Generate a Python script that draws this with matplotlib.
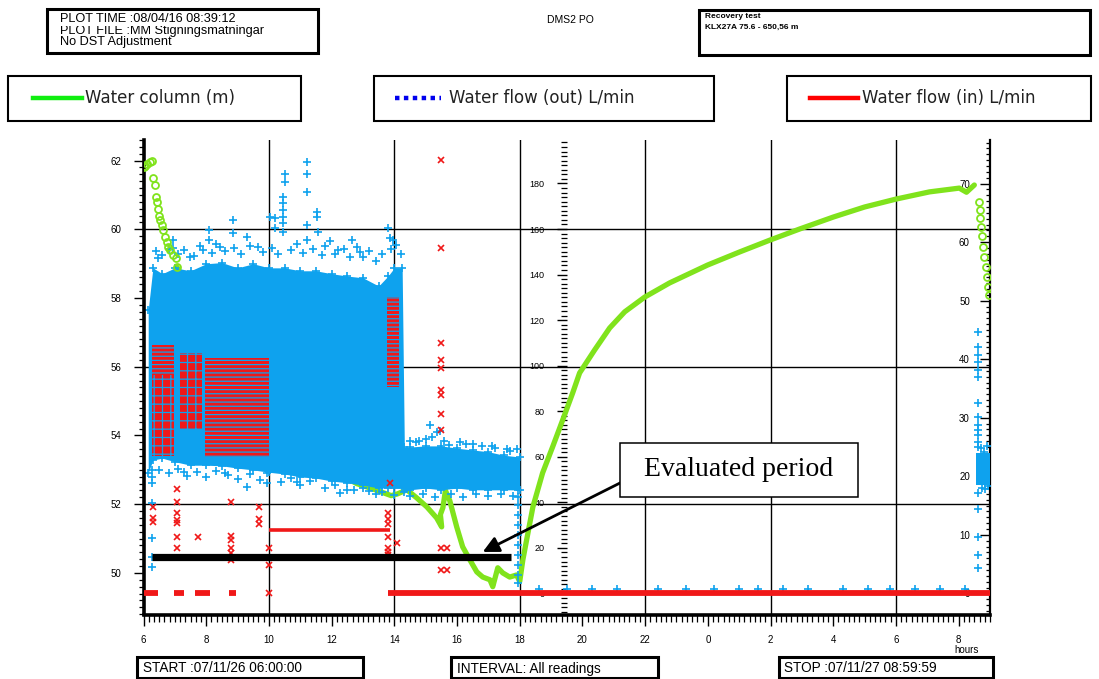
import matplotlib
matplotlib.use("Agg")
import matplotlib.pyplot as plt
from matplotlib.patches import Rectangle
from matplotlib.lines import Line2D
from matplotlib.ticker import FixedLocator, MultipleLocator, FixedFormatter

plt.rcParams['font.family'] = ['Liberation Sans', 'DejaVu Sans']
plt.rcParams['hatch.linewidth'] = 0.9

# ---------------- data ----------------
# time axis in hours from 06:00 on day 1 (33 = 09:00 on day 2)
x_ticks = [6, 8, 10, 12, 14, 16, 18, 20, 22, 24, 26, 28, 30, 32]
x_tick_labels = ['6', '8', '10', '12', '14', '16', '18', '20', '22', '0', '2', '4', '6', '8']
left_ticks = [50, 52, 54, 56, 58, 60, 62]
mid_ticks = [0, 20, 40, 60, 80, 100, 120, 140, 160, 180]
right_ticks = [0, 10, 20, 30, 40, 50, 60, 70]

# water column (m) - dense trace
wc_t = [7.07, 7.6, 8.5, 9.5, 10.5, 11.5, 12.3, 12.8, 13.3, 13.9, 14.1, 14.40, 14.72,
        15.04, 15.35, 15.51, 15.47, 15.55, 15.63, 15.77, 15.99, 16.18, 16.41, 16.63,
        16.82, 17.05, 17.14, 17.30, 17.46, 17.68, 17.90, 18.00, 18.10, 18.22, 18.42,
        18.73, 19.05, 19.37, 19.69, 19.91, 20.39, 20.87, 21.35, 21.99, 22.78, 23.99,
        25.01, 25.99, 26.93, 28.01, 29.0, 30.0, 31.07, 32.02, 32.25, 32.5]
wc_m = [58.90, 58.0, 56.8, 56.4, 55.0, 53.6, 52.85, 52.6, 52.45, 52.25, 52.3, 52.42, 52.18,
        51.92, 51.60, 51.34, 51.7, 51.9, 52.4, 52.1, 51.34, 50.76, 50.38, 50.03,
        49.88, 49.80, 49.60, 50.15, 50.0, 49.88, 49.94, 49.75, 50.38, 50.96, 51.92,
        52.91, 53.67, 54.45, 55.24, 55.82, 56.49, 57.13, 57.60, 58.03, 58.44, 58.96,
        59.34, 59.69, 60.01, 60.36, 60.65, 60.88, 61.09, 61.2, 61.08, 61.29]
# water column (m) - sparse readings (open circles)
wc_pts_t = [6.00, 6.05, 6.12, 6.20, 6.28, 6.30, 6.37, 6.40, 6.43, 6.46, 6.49, 6.53, 6.59,
            6.62, 6.69, 6.75, 6.78, 6.85, 6.94, 7.03, 7.07,
            32.64, 32.67, 32.69, 32.72, 32.75, 32.77, 32.82, 32.88, 32.91, 32.95, 32.98]
wc_pts_m = [61.80, 61.85, 61.90, 61.95, 62.00, 61.50, 61.30, 60.95, 60.80, 60.60, 60.40,
            60.27, 60.13, 59.98, 59.78, 59.63, 59.50, 59.40, 59.25, 59.16, 58.90,
            60.80, 60.57, 60.33, 60.08, 59.80, 59.50, 59.20, 58.90, 58.60, 58.33, 58.10]

# water flow (out) L/min - envelope of the dense scatter
out_t = [6.15, 6.3, 6.6, 7.0, 7.5, 8.0, 8.5, 9.0, 9.5, 10.0, 10.5, 11.0, 11.5, 12.0, 12.5,
         13.0, 13.5, 13.8, 14.0, 14.25, 14.32, 14.5, 15.0, 15.5, 16.0, 16.5, 17.0, 17.5, 18.0]
out_hi = [48.4, 55.6, 54.6, 55.6, 55.1, 56.3, 56.5, 55.6, 56.3, 55.6, 55.6, 55.1, 55.1, 54.6,
          54.2, 53.9, 52.5, 54.2, 55.6, 55.6, 25.0, 25.0, 25.2, 25.2, 24.8, 24.5, 24.2, 23.6, 23.3]
out_lo = [20.6, 22.8, 23.1, 22.5, 21.9, 21.9, 21.8, 21.4, 21.1, 20.7, 20.4, 19.9, 19.7, 19.2,
          18.9, 18.5, 18.0, 18.0, 18.0, 18.0, 17.3, 17.7, 18.0, 17.7, 18.0, 17.7, 17.7, 17.7, 17.7]
out_end_t = [32.55, 33.0]
out_end_hi = [24.0, 24.0]
out_end_lo = [18.6, 18.6]
# water flow (out) L/min - readings along the edges of the dense scatter
edge_t = [6.4, 6.6, 6.8, 7.1, 7.3, 7.6, 7.8, 8.2, 8.3, 8.6, 8.9, 9.1, 9.4, 9.8, 10.1, 10.3,
          10.7, 10.9, 11.1, 11.4, 11.7, 11.8, 12.1, 12.4, 12.6, 12.8, 13.0, 13.2, 13.4, 13.6,
          13.9, 14.05, 14.2,
          6.5, 6.8, 7.1, 7.4, 7.7, 8.0, 8.3, 8.7, 9.0, 9.4, 9.7, 10.4, 10.7, 11.0, 11.3, 11.8,
          12.1, 12.7, 13.0, 13.4, 13.6, 14.0,
          14.5, 14.9, 15.3, 15.8, 16.2, 16.6, 17.0, 17.4, 17.8,
          14.5, 14.7, 15.0, 15.6, 16.3, 16.8, 17.2, 17.7, 17.9,
          32.7, 32.8, 32.9, 32.75, 32.85, 32.95]
edge_v = [58.5, 57.8, 58.9, 57.9, 58.6, 57.7, 59.3, 58.2, 59.6, 58.4, 59.0, 58.0, 59.4, 58.3,
          59.0, 58.0, 58.7, 59.6, 58.2, 58.9, 57.8, 59.3, 58.0, 58.8, 57.5, 59.1, 57.4, 58.5,
          56.8, 57.9, 58.8, 59.5, 58.0,
          21.0, 20.5, 21.2, 20.0, 20.8, 19.9, 20.9, 20.2, 19.6, 20.4, 19.3, 19.0, 19.8, 18.5,
          19.2, 18.0, 18.6, 17.6, 18.0, 16.9, 17.4, 16.8,
          16.6, 17.0, 16.4, 16.9, 16.5, 17.0, 16.6, 16.9, 16.7,
          26.0, 25.8, 26.3, 26.0, 25.6, 25.2, 24.8, 24.4, 24.6,
          24.8, 24.2, 25.2, 18.0, 17.8, 18.3]
# water flow (out) L/min - isolated readings
out_pts_t = [11.20, 11.20, 11.20, 10.51, 10.51, 10.44, 10.44, 10.44, 10.44, 10.44, 10.44,
             8.84, 8.84, 8.10, 8.10, 11.52, 11.52, 11.20, 11.20, 11.57, 13.80, 13.96, 10.03,
             9.29, 11.95, 12.64, 9.66, 8.44, 7.48, 6.47, 6.95, 6.95, 13.85, 12.2, 12.9, 7.9,
             10.2, 10.2,
             6.28, 6.28, 6.28, 6.28, 6.28, 6.28, 6.28,
             7.3, 8.6, 9.29, 9.94, 9.94, 12.27, 12.49, 10.9, 13.2,
             15.74, 16.09, 15.2, 15.35, 15.13, 15.45, 16.5, 17.1, 17.6, 14.8,
             17.95, 17.95, 17.95, 17.95, 17.95, 17.95, 17.95, 17.95, 17.95, 17.95, 17.95,
             32.63, 32.63, 32.63, 32.63, 32.63, 32.63, 32.63, 32.63, 32.63, 32.63, 32.63,
             32.63, 32.63, 32.63, 32.63, 32.63, 32.63, 32.63,
             18.6, 19.5, 20.3, 21.1, 22.4, 23.3, 24.2, 25.0, 25.6, 26.4, 27.2, 28.3, 29.1,
             29.8, 30.6, 31.4, 32.2]
out_pts_v = [73.7, 71.7, 68.6, 71.7, 70.3, 67.7, 66.6, 65.5, 64.3, 63.2, 61.8,
             63.8, 61.5, 62.1, 60.4, 65.2, 64.3, 62.9, 60.4, 61.8, 62.4, 60.4, 64.3,
             60.9, 60.1, 60.4, 59.2, 59.2, 57.5, 57.2, 60.4, 59.0, 60.7, 58.6, 58.3, 58.6,
             64.1, 62.4,
             21.1, 19.9, 18.9, 15.5, 9.5, 6.2, 4.5,
             20.7, 20.5, 18.2, 20.6, 18.9, 17.2, 17.7, 19.0, 17.5,
             25.4, 25.9, 26.7, 27.6, 28.8, 27.8, 25.6, 25.2, 24.6, 26.0,
             17.7, 16.5, 15.1, 13.4, 11.7, 10.0, 8.3, 6.6, 4.9, 3.2, 1.8,
             44.6, 42.1, 40.7, 39.5, 38.2, 37.0, 32.5, 30.1, 28.8, 27.9, 27.1,
             25.9, 25.0, 17.1, 14.4, 9.6, 6.5, 4.3,
             0.7, 0.7, 0.7, 0.7, 0.7, 0.7, 0.7, 0.7, 0.7, 0.7, 0.7, 0.7, 0.7,
             0.7, 0.7, 0.7, 0.7]

# water flow (in) L/min
in_zero_t0 = [6.0, 6.97, 7.64, 8.73, 13.79]
in_zero_t1 = [6.46, 7.29, 8.12, 8.95, 33.0]
in_step_t = [10.0, 13.86]
in_step_v = [10.84, 10.84]
in_pts_t = [6.31, 6.31, 6.31,
            7.07, 7.07, 7.07, 7.07, 7.07, 7.07, 7.07, 7.74,
            8.80, 8.80, 8.80, 8.80, 8.80, 8.80, 9.67, 9.67, 9.67,
            10.0, 10.0, 10.0,
            13.79, 13.79, 13.79, 13.79, 13.79, 13.79, 13.79, 14.1, 13.85,
            15.5, 15.5, 15.5, 15.5, 15.5, 15.5, 15.5, 15.5, 15.5, 15.5, 15.5,
            15.68, 15.68]
in_pts_v = [14.8, 12.9, 12.2,
            17.8, 15.6, 13.7, 12.5, 12.0, 9.6, 7.8, 9.6,
            15.6, 9.8, 9.1, 7.8, 6.9, 5.7, 14.8, 12.7, 11.9,
            7.8, 4.9, 0.1,
            13.7, 12.7, 11.9, 9.6, 7.8, 7.1, 6.6, 8.6, 18.9,
            74.0, 59.0, 42.8, 39.8, 38.5, 34.7, 33.9, 30.6, 27.9, 7.8, 4.0,
            7.8, 4.0]
# dense blocks of (in) readings
in_blk_t0 = [6.27, 7.95, 13.78]
in_blk_t1 = [6.98, 10.0, 14.15]
in_blk_top = [42.4, 40.2, 50.6]
in_blk_bot = [37.3, 23.3, 35.2]
# sparse blocks of (in) readings
in_spr_t0 = [6.27, 7.15]
in_spr_t1 = [6.98, 7.85]
in_spr_top = [37.3, 41.0]
in_spr_bot = [23.5, 28.0]

# evaluated period marker
eval_t = [6.27, 17.73]
eval_m = [50.47, 50.47]
arrow_from = (21.27, 52.65)
arrow_to = (16.82, 50.61)

GREEN = '#80E31C'
BLUE = '#0EA2EE'
RED = '#F01818'

# ---------------- figure ----------------
W, H = 1099, 679
fig = plt.figure(figsize=(W / 100, H / 100), dpi=100)


def fx(x):
    return x / W


def fy(y):
    return 1 - y / H


ax = fig.add_axes([fx(143.5), fy(614.5), fx(990) - fx(143.5), fy(140) - fy(614.5)])
axr = ax.twinx()
axm = ax.twinx()
ax.set_zorder(3)
ax.patch.set_visible(False)

ax.set_xlim(6, 33)
ax.set_ylim(48.79, 62.60)
axr.set_ylim(-3.59, 77.43)
axm.set_ylim(-9.22, 199.07)
tr_flow = axr.transData

# grid
for g in [10, 14, 18, 22, 26, 30]:
    ax.axvline(g, color='black', lw=1.0, zorder=0.5)
for g in [52, 56, 60]:
    ax.axhline(g, color='black', lw=1.0, zorder=0.5)

# water column trace (under the flow cloud)
ax.plot(wc_t, wc_m, color=GREEN, lw=3.8, solid_capstyle='round', solid_joinstyle='round', zorder=1)

# flow out cloud
pkw = dict(color=BLUE, ms=6, mew=1.2, ls='none', marker='+', transform=tr_flow, zorder=2)
ax.fill_between(out_t, out_lo, out_hi, color=BLUE, lw=0, transform=tr_flow, zorder=2)
ax.fill_between(out_end_t, out_end_lo, out_end_hi, color=BLUE, lw=0, transform=tr_flow, zorder=2)
ax.plot(out_t, out_hi, **pkw)
ax.plot(out_t, out_lo, **pkw)
ax.plot(edge_t, edge_v, **pkw)
ax.plot(out_pts_t, out_pts_v, clip_on=False, **pkw)

# flow in blocks
for t0, t1, top, bot in zip(in_blk_t0, in_blk_t1, in_blk_top, in_blk_bot):
    ax.fill_between([t0, t1], [bot, bot], [top, top], facecolor=RED, edgecolor=BLUE,
                    hatch='----', lw=0, transform=tr_flow, zorder=2.5)
for t0, t1, top, bot in zip(in_spr_t0, in_spr_t1, in_spr_top, in_spr_bot):
    ax.fill_between([t0, t1], [bot, bot], [top, top], facecolor=RED, edgecolor=BLUE,
                    hatch='--||', lw=0, transform=tr_flow, zorder=2.5)

# water column sparse readings
ax.plot(wc_pts_t, wc_pts_m, 'o', mfc='none', mec=GREEN, ms=5, mew=1.3, zorder=4)

# flow in
for t0, t1 in zip(in_zero_t0, in_zero_t1):
    ax.plot([t0, t1], [0, 0], color=RED, lw=4.2, solid_capstyle='butt', transform=tr_flow,
            zorder=4)
ax.plot(in_step_t, in_step_v, color=RED, lw=2.6, solid_capstyle='butt', transform=tr_flow, zorder=4)
ax.plot(in_pts_t, in_pts_v, 'x', color=RED, ms=4, mew=1.2, transform=tr_flow, zorder=4)

# evaluated period bar and arrow
ax.plot(eval_t, eval_m, color='black', lw=5.2, solid_capstyle='butt', zorder=5)
ax.annotate('', xy=arrow_to, xytext=arrow_from,
            arrowprops=dict(arrowstyle='-|>', color='black', lw=2.0, mutation_scale=24,
                            shrinkA=0, shrinkB=0), zorder=6)

# ---------------- axes styling ----------------
for s in ['top', 'right']:
    ax.spines[s].set_visible(False)
ax.spines['left'].set_linewidth(2.6)
ax.spines['bottom'].set_linewidth(2.6)

ax.xaxis.set_major_locator(FixedLocator(x_ticks))
ax.xaxis.set_major_formatter(FixedFormatter(x_tick_labels))
ax.xaxis.set_minor_locator(MultipleLocator(1 / 6))
ax.tick_params(axis='x', which='major', direction='out', length=8, width=1.0, labelsize=7, pad=7)
ax.tick_params(axis='x', which='minor', direction='out', length=5, width=0.9)

ax.yaxis.set_major_locator(FixedLocator(left_ticks))
ax.yaxis.set_minor_locator(MultipleLocator(0.2))
ax.tick_params(axis='y', which='major', direction='out', length=7, width=1.0, labelsize=7, pad=9)
ax.tick_params(axis='y', which='minor', direction='out', length=3.5, width=0.9)

for s in ['top', 'left', 'bottom']:
    axr.spines[s].set_visible(False)
axr.spines['right'].set_linewidth(1.6)
axr.yaxis.set_major_locator(FixedLocator(right_ticks))
axr.yaxis.set_minor_locator(MultipleLocator(1))
axr.tick_params(axis='y', which='major', direction='in', length=7.5, width=1.0, labelsize=7, pad=-14.5)
axr.tick_params(axis='y', which='minor', direction='in', length=3, width=0.9)
plt.setp(axr.get_yticklabels(), ha='right')

for s in ['top', 'right', 'bottom']:
    axm.spines[s].set_visible(False)
axm.spines['left'].set_position(('data', 19.5))
axm.spines['left'].set_linewidth(0)
axm.yaxis.tick_left()
axm.yaxis.set_major_locator(FixedLocator(mid_ticks))
axm.yaxis.set_minor_locator(MultipleLocator(2))
axm.tick_params(axis='y', which='major', direction='out', length=7, width=1.0, labelsize=6.5, pad=9)
axm.tick_params(axis='y', which='minor', direction='out', length=4, width=0.9)

fig.text(fx(967), fy(650), 'hours', fontsize=7, ha='center', va='center')

# ---------------- header, legend and footer boxes ----------------


def box(x0, y0, x1, y1, lw):
    fig.add_artist(Rectangle((fx(x0), fy(y1)), fx(x1) - fx(x0), fy(y0) - fy(y1),
                             transform=fig.transFigure, facecolor='white', edgecolor='black',
                             lw=lw, zorder=1))


box(47, 9, 318, 53, 2.2)
fig.text(fx(60), fy(31), 'PLOT FILE :MM Stigningsmätningar', fontsize=9.2, va='center', zorder=3)
fig.text(fx(60), fy(19.5), 'PLOT TIME :08/04/16 08:39:12', fontsize=9.2, va='center', zorder=4,
         bbox=dict(facecolor='white', edgecolor='none', pad=0.5))
fig.text(fx(60), fy(41.5), 'No DST Adjustment', fontsize=9.2, va='center', zorder=4)

fig.text(fx(570), fy(20), 'DMS2 PO', fontsize=7.5, ha='center', va='center')

box(699, 10, 1090, 55, 2.2)
fig.text(fx(705), fy(17), 'Recovery test', fontsize=6, fontweight='bold', va='center')
fig.text(fx(705), fy(27), 'KLX27A 75.6 - 650,56 m', fontsize=6, fontweight='bold', va='center')

legend_font = dict(fontsize=12, family='DejaVu Sans', color='#222222', va='center')
box(8, 76, 301, 121, 1.5)
fig.add_artist(Line2D([fx(33), fx(82)], [fy(98), fy(98)], transform=fig.transFigure,
                      color='#10EE10', lw=3.2))
fig.text(fx(85), fy(98), 'Water column (m)', **legend_font)
box(374, 76, 714, 121, 1.5)
fig.add_artist(Line2D([fx(395), fx(441)], [fy(98), fy(98)], transform=fig.transFigure,
                      color='#0000EE', lw=3.2, ls=(0, (1, 1))))
fig.text(fx(449), fy(98), 'Water flow (out) L/min', **legend_font)
box(787, 76, 1091, 121, 1.5)
fig.add_artist(Line2D([fx(810), fx(858)], [fy(98), fy(98)], transform=fig.transFigure,
                      color='#FF0000', lw=3.2))
fig.text(fx(862), fy(98), 'Water flow (in) L/min', **legend_font)

box(137, 657, 363, 678, 2.2)
fig.text(fx(143), fy(668.5), 'START :07/11/26 06:00:00', fontsize=9.8, va='center', zorder=3)
box(451, 657, 658, 678, 2.2)
fig.text(fx(457), fy(668.5), 'INTERVAL: All readings', fontsize=9.8, va='center', zorder=3)
box(779, 657, 993, 678, 2.2)
fig.text(fx(784), fy(668.5), 'STOP :07/11/27 08:59:59', fontsize=9.8, va='center', zorder=3)

# annotation box
fig.add_artist(Rectangle((fx(620), fy(497)), fx(858) - fx(620), fy(443) - fy(497),
                         transform=fig.transFigure, facecolor='white', edgecolor='black',
                         lw=1.1, zorder=5))
fig.text(fx(739), fy(470), 'Evaluated period', fontsize=20, family='Liberation Serif',
         ha='center', va='center', zorder=6)

fig.savefig('out.png', dpi=100)
